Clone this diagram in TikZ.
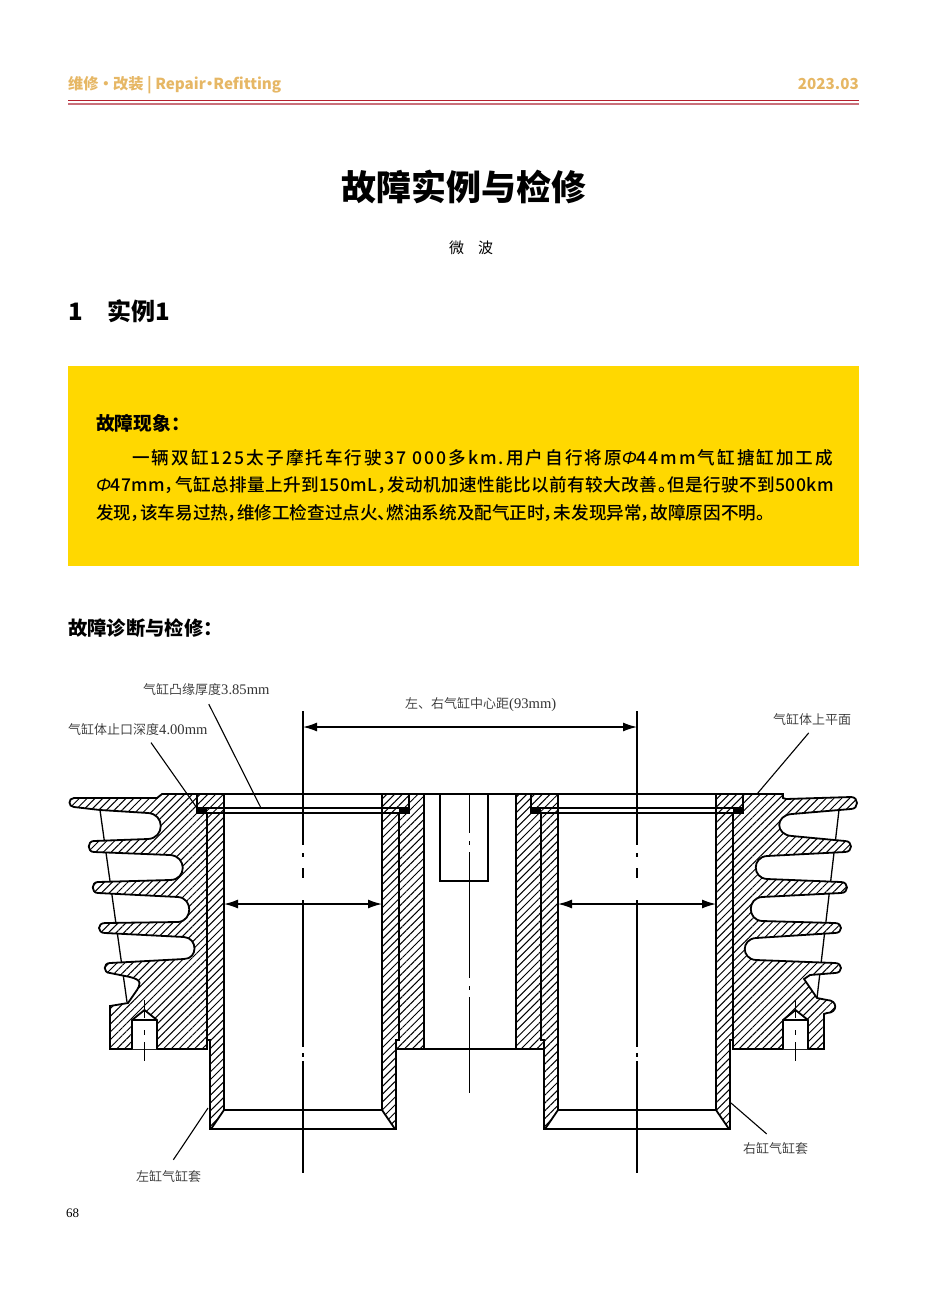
\documentclass[tikz,border=0pt]{standalone}
\usepackage{fontspec}
\setmainfont{Liberation Serif}
\newfontfamily\cjk[RawFeature=+palt]{Noto Sans CJK SC}
\newfontfamily\cjkm[RawFeature=+palt]{Noto Sans CJK SC Medium}
\newfontfamily\cjkl{Noto Sans CJK SC DemiLight}
\newfontfamily\phifont{Noto Sans}
\usetikzlibrary{arrows.meta,patterns.meta}
\definecolor{headgold}{HTML}{E6B765}
\definecolor{rulered}{HTML}{B5202E}
\definecolor{rulepink}{HTML}{C9707A}
\definecolor{boxyellow}{HTML}{FFD800}
\tikzstyle{hatch}=[draw, line width=1.8pt, preaction={fill=white},
    pattern={Lines[angle=45,distance=5.5pt,line width=1pt]}]
\tikzstyle{outline}=[draw, line width=1.8pt]
\tikzstyle{thinline}=[draw, line width=1.1pt]
\tikzstyle{centre}=[draw, line width=1.2pt]
\tikzstyle{dim}=[draw, line width=1.4pt, {Latex[length=14pt,width=9pt]}-{Latex[length=14pt,width=9pt]}]
\tikzstyle{leader}=[draw, line width=1.1pt]
\tikzstyle{label}=[inner sep=0pt, anchor=west, font=\fontsize{14.6}{14.6}\selectfont, text=black!80]
\tikzstyle{bodyline}=[anchor=west, inner sep=0pt, font=\cjkm\fontsize{17.6}{17.6}\selectfont]
\tikzstyle{heading}=[anchor=west, inner sep=0pt, font=\cjk\bfseries\fontsize{18.7}{18.7}\selectfont]
\newcommand{\cjklabel}[1]{{\cjkl\fontsize{13}{13}\selectfont #1}}

\begin{document}
\begin{tikzpicture}[x=1pt, y=-1pt]
    \useasboundingbox (0,0) rectangle (950,1290);

    % page head
    \node[anchor=base west, inner sep=0pt, text=headgold, font=\cjk\bfseries\fontsize{15.2}{15.2}\selectfont]
        (head_left) at (68,89) {维修 · 改装 | Repair·Refitting};
    \node[anchor=base east, inner sep=0pt, text=headgold, font=\cjk\bfseries\fontsize{15.2}{15.2}\selectfont]
        (head_right) at (859,89) {2023.03};
    \draw[rulered, line width=1pt] (68,100.5) -- (859,100.5);
    \draw[rulepink, line width=1.2pt] (68,104) -- (859,104);

    \node[inner sep=0pt, font=\cjk\bfseries\fontsize{35}{35}\selectfont] (title) at (464,187) {故障实例与检修};
    \node[inner sep=0pt, font=\cjk\fontsize{15}{15}\selectfont] (author) at (471,248) {微\hspace{14pt}波};
    \node[heading, font=\cjk\bfseries\fontsize{24}{24}\selectfont] (section) at (68,311) {1\hspace{25pt}实例1};

    % yellow box
    \fill[boxyellow] (68,366) rectangle (859,566);
    \node[heading] (fault_head) at (96,423.5) {故障现象：};
    \node[bodyline] (fault_1) at (132,458) {\addfontfeature{LetterSpace=11.5}一辆双缸125太子摩托车行驶37 000多km.用户自行将原{\phifont\itshape Φ}44mm气缸搪缸加工成};
    \node[bodyline] (fault_2) at (96,485) {\addfontfeature{LetterSpace=2.5}{\phifont\itshape Φ}47mm，气缸总排量上升到150mL，发动机加速性能比以前有较大改善。但是行驶不到500km};
    \node[bodyline] (fault_3) at (96,513) {发现，该车易过热，维修工检查过点火、燃油系统及配气正时，未发现异常，故障原因不明。};
    \node[heading, font=\cjk\bfseries\fontsize{19.3}{19.3}\selectfont] (repair_head) at (68,628.5) {故障诊断与检修：};

    % fin outlines, behind the castings
    \draw[line width=1.3pt] (100,810) -- (127,1002);
    \draw[line width=1.3pt] (839,810) -- (817,998);

    % left casting
    \path[hatch] (162,794) -- (157,798) -- (74,798) .. controls (68,798) and (68,807) .. (74,807) -- (100,810) -- (148,813)
        .. controls (165,814) and (165,838) .. (148,839) -- (94,841) .. controls (87,841) and (87,852) .. (94,852)
        -- (170,855) .. controls (187,856) and (187,880) .. (170,880) -- (98,882) .. controls (91,882) and (91,893) .. (98,893)
        -- (178,897) .. controls (193,898) and (193,921) .. (178,922) -- (105,923) .. controls (97,923) and (97,933) .. (105,933)
        -- (184,937) .. controls (198,938) and (198,959) .. (184,959) -- (110,963) .. controls (103,963) and (103,973) .. (110,973)
        -- (130,977) .. controls (143,980) and (140,985) .. (137,990) -- (128,1003) -- (110,1006) -- (110,1049)
        -- (207,1049) -- (207,813) -- (197,813) -- (197,794) -- cycle;

    % right casting
    \path[hatch] (783,794) -- (783,798) -- (786,799) -- (851,797) .. controls (859,797) and (859,809) .. (851,809) -- (792,814)
        .. controls (775,815) and (775,835) .. (792,836) -- (845,841) .. controls (853,841) and (853,852) .. (845,852)
        -- (767,856) .. controls (752,857) and (752,878) .. (767,879) -- (841,882) .. controls (849,882) and (849,893) .. (841,893)
        -- (762,897) .. controls (747,898) and (747,920) .. (762,921) -- (835,923) .. controls (843,923) and (843,933) .. (835,933)
        -- (756,938) .. controls (741,939) and (741,959) .. (756,960) -- (835,963) .. controls (843,963) and (843,973) .. (835,973)
        -- (810,975) -- (804,979) -- (817,998) -- (827,1000) .. controls (838,1000) and (838,1013) .. (827,1013) -- (824,1014)
        -- (824,1049) -- (733,1049) -- (733,813) -- (743,813) -- (743,794) -- cycle;

    % bolt holes
    \foreach \cx/\hole in {144.5/hole_l, 795.5/hole_r} {
        \path[draw, fill=white, line width=1.8pt] (\cx-12.5,1049) -- (\cx-12.5,1020) -- (\cx,1010) -- (\cx+12.5,1020)
            -- (\cx+12.5,1049);
        \draw[line width=1.8pt] (\cx-12.5,1020) -- (\cx+12.5,1020);
        \path[centre, dash pattern=on 18pt off 12pt on 5pt off 7pt on 19pt] (\cx,1000) -- (\cx,1061);
    }

    % walls and sleeves
    \foreach \cx/\s/\side in {303/1/l, 637/-1/r} {
        \begin{scope}[shift={(\cx,0)}, xscale=\s]
            \path[hatch] (106,794) -- (121,794) -- (121,1049) -- (92,1049) -- (92,1040) -- (96,1040)
                -- (96,813) -- (106,813) -- cycle;
            \foreach \t in {-1,1} {
                \path[hatch] (\t*106,794) -- (\t*79,794) -- (\t*79,1110) -- (\t*92,1129) -- (\t*93,1129)
                    -- (\t*93,1040) -- (\t*96,1040) -- (\t*96,813) -- (\t*106,813) -- cycle;
                \fill (\t*106,808) rectangle (\t*96,814);
            }
            \path[thinline] (-106,808) -- (106,808);
            \path[thinline] (-106,813) -- (106,813);
            \path[outline] (-79,1110) -- (79,1110);
            \path[outline] (-93,1129) -- (93,1129);
            \coordinate (bore_\side_a) at (-79,904);
            \coordinate (bore_\side_b) at (79,904);
        \end{scope}
        \path[dim] (bore_\side_a) -- (bore_\side_b);
        \path[centre, dash pattern=on 134pt off 8pt on 4pt off 11pt on 10pt off 22pt on 147pt off 6pt on 4pt off 4pt on 112pt]
            (\cx,711) -- (\cx,1175);
    }

    % middle of the block
    \path[outline] (162,794) -- (783,794);
    \path[outline] (424,1049) -- (515,1049);
    \path[outline] (440,794) -- (440,881) -- (488,881) -- (488,794);
    \path[centre, dash pattern=on 39pt off 8pt on 4pt off 7pt on 126pt off 8pt on 4pt off 7pt on 96pt]
        (469.5,794) -- (469.5,1093);

    % centre distance
    \coordinate (span_a) at (303,727);
    \coordinate (span_b) at (637,727);
    \path[dim] (span_a) -- (span_b);

    % labels and leaders
    \node[label] (lip_label) at (143,689) {\cjklabel{气缸凸缘厚度}3.85mm};
    \node[label] (depth_label) at (68,729) {\cjklabel{气缸体止口深度}4.00mm};
    \node[label] (span_label) at (405,705) {\cjklabel{左、右气缸中心距}(93mm)};
    \node[label] (deck_label) at (773,719) {\cjklabel{气缸体上平面}};
    \node[label] (sleeve_l_label) at (136,1176) {\cjklabel{左缸气缸套}};
    \node[label] (sleeve_r_label) at (743,1148) {\cjklabel{右缸气缸套}};
    \node[inner sep=0pt, anchor=west, font=\fontsize{13}{13}\selectfont] (page_no) at (66,1213) {68};

    \coordinate (lip_end) at (261,808);
    \coordinate (depth_end) at (197,808);
    \coordinate (deck_end) at (757,794);
    \coordinate (sleeve_l_end) at (208,1108);
    \coordinate (sleeve_r_end) at (731,1103);
    \path[leader, shorten <=10pt] ([xshift=-2pt]lip_label.south) -- (lip_end);
    \path[leader, shorten <=9pt] ([xshift=8pt]depth_label.south) -- (depth_end);
    \path[leader, shorten <=10pt] ([xshift=3pt]deck_label.south) -- (deck_end);
    \path[leader, shorten <=12pt] ([xshift=-2pt]sleeve_l_label.north) -- (sleeve_l_end);
    \path[leader, shorten <=12pt] (sleeve_r_label.north) -- (sleeve_r_end);
\end{tikzpicture}
\end{document}
